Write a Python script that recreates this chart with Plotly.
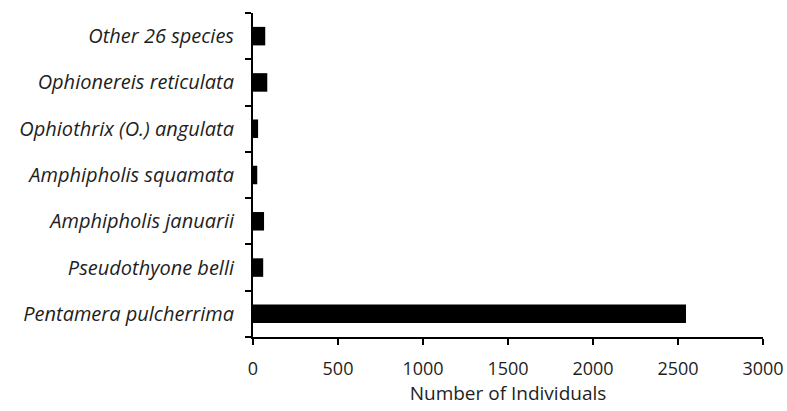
import plotly.graph_objects as go

species = [
    "Pentamera pulcherrima",
    "Pseudothyone belli",
    "Amphipholis januarii",
    "Amphipholis squamata",
    "Ophiothrix (O.) angulata",
    "Ophionereis reticulata",
    "Other 26 species",
]
individuals = [2547, 60, 65, 25, 30, 84, 72]

x_ticks = [0, 500, 1000, 1500, 2000, 2500, 3000]

fig = go.Figure(
    go.Bar(
        y=species,
        x=individuals,
        orientation="h",
        marker=dict(color="black", line=dict(width=0)),
        width=0.4,
    )
)

font_family = "Open Sans, Liberation Sans, sans-serif"
text_color = "#1e1e1e"

fig.update_layout(
    template="none",
    width=787,
    height=411,
    margin=dict(l=253, r=24, t=13, b=74),
    paper_bgcolor="white",
    plot_bgcolor="white",
    showlegend=False,
    font=dict(family=font_family, color=text_color, size=19),
)

fig.update_xaxes(
    range=[0, 3000],
    tickvals=x_ticks,
    ticktext=[str(v) for v in x_ticks],
    automargin=False,
    showgrid=False,
    zeroline=False,
    showline=True,
    linecolor="black",
    linewidth=2,
    ticks="outside",
    ticklen=6,
    tickwidth=2,
    tickcolor="black",
    ticklabelstandoff=8,
    tickfont=dict(size=18, color=text_color),
    title=dict(text="Number of Individuals", font=dict(size=19, color=text_color), standoff=8),
)

fig.update_yaxes(
    type="category",
    categoryorder="array",
    categoryarray=species,
    range=[-0.5, 6.5],
    automargin=False,
    showgrid=False,
    zeroline=False,
    showline=True,
    linecolor="black",
    linewidth=2,
    ticks="outside",
    tickson="boundaries",
    ticklen=6,
    tickwidth=2,
    tickcolor="black",
    ticklabelstandoff=13,
    tickfont=dict(size=20, color=text_color, style="italic"),
)

fig.write_html(
    "out.html",
    config={"displayModeBar": False},
    post_script="document.body.style.margin='0';document.body.style.overflow='hidden';",
)
